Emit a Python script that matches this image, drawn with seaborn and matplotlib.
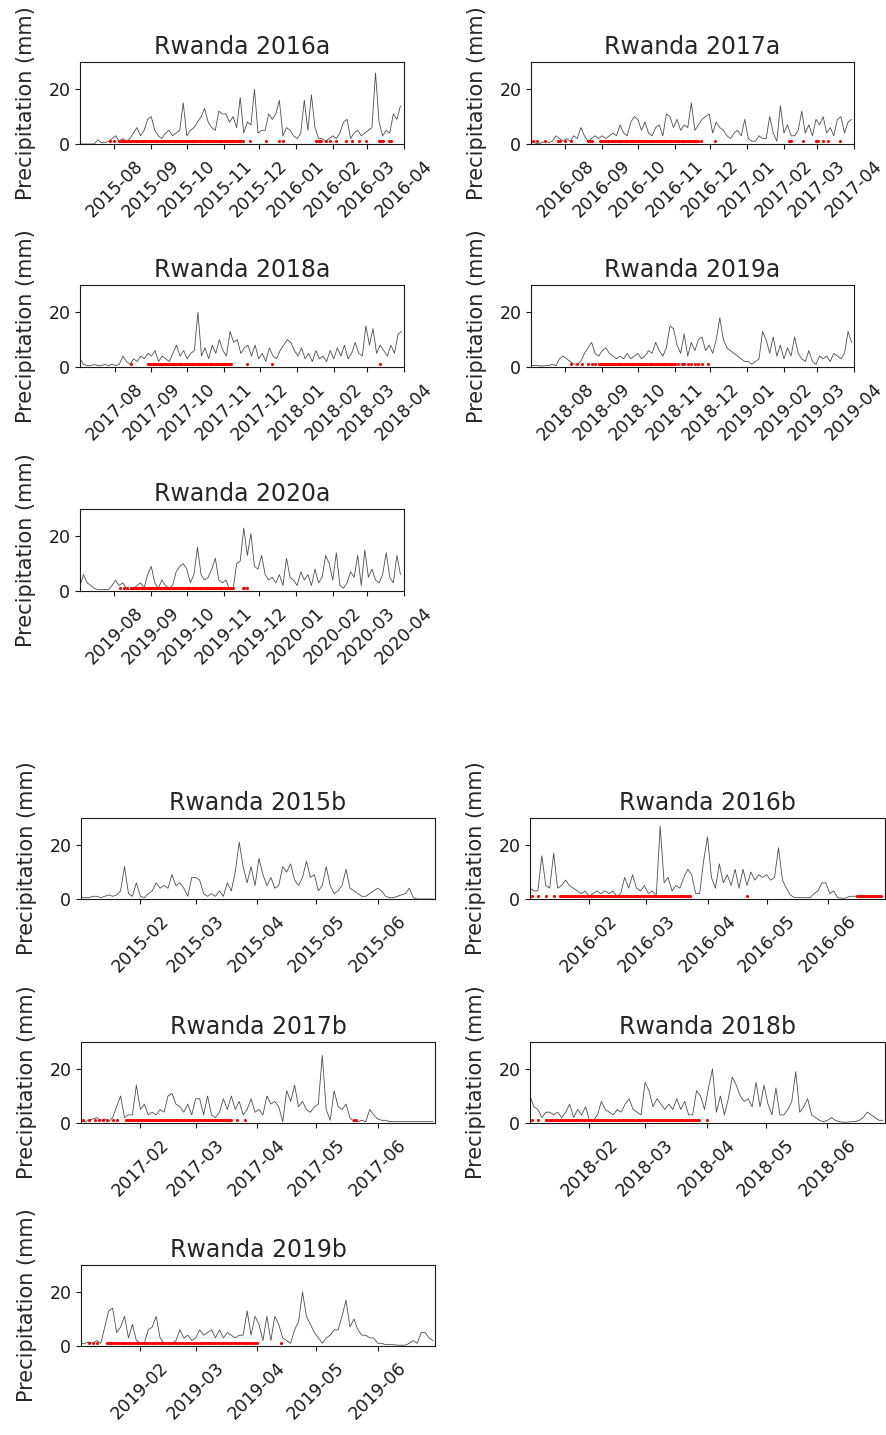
import numpy as np
import pandas as pd
import matplotlib
matplotlib.use("Agg")
import matplotlib.pyplot as plt
import matplotlib.dates as mdates
import seaborn as sns

# ---------------- data ----------------
# Season "a": 3-day samples starting 3 July of the previous year
A_TITLES = ["Rwanda 2016a", "Rwanda 2017a", "Rwanda 2018a", "Rwanda 2019a", "Rwanda 2020a"]
A_STARTS = ["2015-07-03", "2016-07-03", "2017-07-03", "2018-07-03", "2019-07-03"]
A_ENDS = ["2016-04-01", "2017-04-01", "2018-04-01", "2019-04-01", "2020-04-01"]

precip_2016a = [0, 0, 0, 0, 0, 1.5, 0.5, 0.5, 1, 2,
                3, 1, 2, 1, 2, 4, 6, 3, 5, 9,
                10, 5, 3, 2, 4, 5, 3, 4, 5, 15,
                3, 5, 6, 8, 10, 13, 8, 6, 5, 12,
                11, 11, 8, 10, 6, 17, 4, 8, 7, 20,
                4, 5, 5, 11, 9, 11, 16, 3, 6, 5,
                3, 2, 4, 16, 5, 18, 6, 2, 2, 1,
                2, 3, 2, 4, 8, 9, 2, 4, 5, 3,
                4, 5, 6, 26, 8, 3, 5, 4, 11, 9, 14]
precip_2017a = [0.5, 0.5, 0, 0.5, 1, 0.5, 1, 3, 2, 1,
                2, 1, 3, 2, 6, 3, 1, 2, 3, 2,
                3, 2, 3, 4, 3, 7, 4, 3, 8, 10,
                9, 5, 8, 4, 3, 6, 7, 3, 11, 10,
                6, 9, 5, 7, 6, 15, 5, 7, 9, 10,
                11, 4, 8, 6, 5, 3, 2, 4, 5, 3,
                9, 2, 1, 1, 3, 2, 2, 10, 4, 1,
                14, 4, 7, 3, 3, 5, 12, 4, 7, 3,
                9, 7, 10, 4, 6, 3, 9, 10, 4, 8, 9]
precip_2018a = [3, 1, 0.5, 0.5, 1, 0.5, 0.5, 1, 0.5, 1,
                0.5, 1, 4, 2, 1, 3, 2, 4, 3, 5,
                4, 6, 2, 4, 3, 2, 5, 8, 4, 6,
                3, 5, 6, 20, 4, 7, 3, 8, 5, 10,
                6, 4, 13, 9, 10, 5, 7, 8, 4, 8,
                3, 5, 2, 7, 4, 3, 6, 8, 10, 9,
                6, 4, 7, 3, 5, 2, 6, 3, 4, 2,
                6, 3, 7, 4, 8, 3, 5, 9, 5, 4,
                15, 8, 14, 5, 8, 6, 4, 8, 5, 12, 13]
precip_2019a = [0.5, 0.5, 0.5, 0.3, 0.5, 0.5, 1, 0.5, 3, 4,
                3, 2, 1, 1, 2, 5, 7, 9, 5, 4,
                6, 7, 5, 4, 3, 4, 3, 5, 3, 4,
                5, 3, 4, 6, 5, 9, 6, 4, 7, 15,
                14, 8, 5, 12, 4, 9, 6, 10, 11, 6,
                8, 5, 10, 18, 10, 7, 6, 5, 4, 3,
                2, 2, 1, 2, 3, 13, 10, 5, 11, 4,
                8, 3, 7, 4, 11, 5, 3, 2, 6, 2,
                1, 4, 3, 4, 2, 5, 4, 3, 5, 13, 9]
precip_2020a = [2, 6, 3, 2, 1, 0.5, 0.5, 0.5, 0.5, 2,
                4, 2, 3, 1, 0.5, 1, 2, 3, 1, 6,
                9, 3, 1, 4, 2, 1, 2, 7, 9, 10,
                8, 3, 6, 16, 6, 4, 5, 8, 12, 4,
                3, 4, 0.5, 0.5, 10, 11, 23, 13, 21, 9,
                8, 13, 6, 4, 5, 3, 6, 2, 12, 5,
                4, 2, 7, 4, 6, 2, 8, 3, 5, 13,
                10, 4, 14, 2, 1, 3, 7, 5, 13, 2,
                15, 5, 8, 4, 3, 6, 14, 5, 3, 13, 6]

# flagged days (red dots): (first day, last day) offsets from season start
flags_2016a = [(25, 25), (29, 29), (33, 137), (143, 143), (157, 157), (168, 168),
               (171, 171), (199, 203), (207, 207), (211, 211), (216, 216), (224, 224),
               (229, 229), (235, 235), (241, 241), (252, 255), (260, 262)]
flags_2017a = [(2, 2), (5, 5), (12, 12), (23, 24), (29, 29), (34, 34), (48, 51),
               (58, 141), (143, 143), (155, 155), (217, 219), (229, 229), (240, 242),
               (246, 246), (250, 250), (260, 260)]
flags_2018a = [(43, 43), (57, 127), (140, 140), (161, 161), (252, 252)]
flags_2019a = [(34, 34), (39, 39), (43, 43), (48, 48), (51, 51), (54, 54), (57, 121),
               (124, 124), (127, 127), (129, 129), (132, 132), (135, 135), (138, 138),
               (141, 141), (144, 144), (149, 149)]
flags_2020a = [(34, 34), (37, 37), (40, 40), (43, 129), (137, 138), (141, 141)]

# Season "b": 2-day samples starting 2 January
B_TITLES = ["Rwanda 2015b", "Rwanda 2016b", "Rwanda 2017b", "Rwanda 2018b", "Rwanda 2019b"]
B_STARTS = ["2015-01-02", "2016-01-02", "2017-01-02", "2018-01-02", "2019-01-02"]
B_ENDS = ["2015-06-30", "2016-06-30", "2017-06-30", "2018-06-30", "2019-06-30"]

precip_2015b = [0.5, 0.5, 0.5, 1, 1, 0.5, 1, 1.5, 1, 1.5, 3, 12, 2, 1, 6,
                1, 0.5, 2, 3, 6, 4, 5, 4, 9, 5, 6, 4, 1, 8,
                8, 7, 2, 1, 2, 1, 3, 1, 6, 3, 10, 21, 12, 6, 12, 5,
                15, 9, 5, 8, 4, 5, 12, 10, 13, 7, 5, 8, 14, 8, 9,
                3, 5, 12, 5, 2, 3, 5, 11, 4, 3, 2, 1, 1, 2, 3, 4,
                3, 1, 0.5, 0.5, 1, 1.5, 2, 4, 0.5, 0, 0, 0, 0, 0]
precip_2016b = [4, 3, 3, 16, 5, 4, 17, 4, 5, 7, 5, 4, 3, 2, 3,
                1, 2, 3, 2, 3, 2, 3, 1, 2, 8, 4, 9, 4, 3, 5,
                2, 3, 1, 27, 6, 8, 3, 5, 4, 8, 11, 9, 2, 2, 14,
                23, 8, 4, 13, 6, 9, 5, 11, 4, 11, 5, 10, 7, 9, 8,
                9, 7, 8, 19, 7, 4, 1.5, 0.5, 0.5, 0.5, 0.5, 0.5, 2, 3, 6,
                6, 2, 3, 0.5, 0.3, 0.3, 1, 1, 1, 0.5, 0.5, 0.5, 0.5, 0.5, 0.5]
precip_2017b = [1, 0.5, 1, 1.5, 2, 1, 1.5, 0.5, 2, 6, 10, 2, 3, 3, 14,
                5, 7, 3, 4, 3, 5, 4, 10, 11, 7, 6, 4, 7, 3, 9,
                9, 3, 10, 3, 2, 4, 9, 5, 10, 5, 8, 3, 5, 9, 4,
                5, 3, 10, 7, 8, 6, 0.5, 12, 8, 14, 6, 8, 5, 4, 6,
                7, 25, 5, 1, 12, 6, 5, 7, 2, 0.5, 0.5, 1, 0.5, 5, 3,
                1.5, 1, 1, 0.5, 0.5, 0.5, 0.5, 0.5, 0.5, 0.5, 0.5, 0.5, 0.5, 0.5, 0.5]
precip_2018b = [10, 6, 5, 2, 4, 4, 3, 4, 2, 4, 7, 2, 5, 3, 6,
                1, 1, 3, 8, 5, 4, 3, 5, 4, 7, 9, 5, 4, 3, 15,
                12, 6, 9, 7, 5, 7, 5, 9, 5, 8, 3, 3, 12, 10, 5,
                13, 20, 4, 10, 3, 9, 17, 14, 10, 8, 9, 6, 15, 6, 14,
                7, 3, 13, 3, 3, 5, 8, 19, 4, 6, 9, 3, 2, 1, 0.5,
                1, 2, 1, 0.5, 0.3, 0.3, 0.5, 0.5, 1, 2, 4, 3, 2, 1, 1]
precip_2019b = [1, 1, 1.5, 1, 2, 1, 7, 13, 14, 5, 7, 11, 3, 8, 2,
                1, 1, 6, 7, 11, 3, 1, 1, 1, 2, 6, 3, 4, 2, 3,
                6, 4, 5, 6, 3, 6, 3, 5, 4, 3, 4, 4, 13, 4, 11,
                8, 2, 11, 2, 11, 8, 3, 2, 1, 6, 9, 20, 11, 8, 5,
                3, 1, 3, 4, 6, 6, 11, 17, 7, 10, 6, 4, 4, 3, 3,
                1, 1, 0.5, 0.5, 0.5, 0.3, 0.3, 0.3, 1, 2, 1, 5, 5, 3, 2]

flags_2015b = []
flags_2016b = [(1, 1), (4, 4), (8, 8), (12, 12), (15, 81), (110, 110), (166, 178)]
flags_2017b = [(1, 1), (4, 4), (7, 7), (9, 9), (11, 11), (13, 13), (16, 16), (18, 18),
               (23, 76), (79, 79), (83, 83), (138, 139)]
flags_2018b = [(1, 1), (4, 4), (8, 85), (89, 89)]
flags_2019b = [(4, 4), (6, 6), (8, 8), (13, 89), (101, 101)]

A_PRECIP = [precip_2016a, precip_2017a, precip_2018a, precip_2019a, precip_2020a]
A_FLAGS = [flags_2016a, flags_2017a, flags_2018a, flags_2019a, flags_2020a]
B_PRECIP = [precip_2015b, precip_2016b, precip_2017b, precip_2018b, precip_2019b]
B_FLAGS = [flags_2015b, flags_2016b, flags_2017b, flags_2018b, flags_2019b]

FLAG_LEVEL = 1  # red markers drawn at 1 mm

# ---------------- styling ----------------
sns.set_style("ticks")
plt.rcParams["font.family"] = ["DejaVu Sans"]
plt.rcParams["axes.edgecolor"] = "0.1"
plt.rcParams["xtick.color"] = "0.1"
plt.rcParams["ytick.color"] = "0.1"
plt.rcParams["text.color"] = "0.15"

W, H = 887, 1435
fig = plt.figure(figsize=(W / 100, H / 100), dpi=100)


def px_axes(left, top, right, bottom):
    return fig.add_axes([left / W, 1 - bottom / H, (right - left) / W, (bottom - top) / H])


def draw(ax, title, start, end, step, values, flags):
    dates = pd.date_range(start, periods=len(values), freq=f"{step}D")
    df = pd.DataFrame({"date": dates, "precip": values})
    sns.lineplot(data=df, x="date", y="precip", ax=ax, color="0.3", linewidth=0.6)
    days = [d for a, b in flags for d in range(a, b + 1)]
    if days:
        fdates = pd.Timestamp(start) + pd.to_timedelta(days, unit="D")
        fdf = pd.DataFrame({"date": fdates, "flag": [FLAG_LEVEL] * len(days)})
        sns.scatterplot(data=fdf, x="date", y="flag", ax=ax, color="red", s=5,
                        linewidth=0, zorder=3, clip_on=False)
    ax.set_xlim(pd.Timestamp(start), pd.Timestamp(end))
    ax.set_ylim(0, 30)
    ax.set_yticks([0, 20])
    ax.xaxis.set_major_locator(mdates.MonthLocator())
    ax.xaxis.set_major_formatter(mdates.DateFormatter("%Y-%m"))
    ax.tick_params(axis="x", labelrotation=45, labelsize=12.5, pad=6)
    ax.tick_params(axis="y", labelsize=12.5)
    ax.set_title(title, fontsize=17)
    ax.set_ylabel("Precipitation (mm)", fontsize=15, labelpad=9)
    ax.set_xlabel("")


# top block (season a)
a_boxes = [(80, 62, 404, 144), (531, 62, 854, 144),
           (80, 285, 404, 367), (531, 285, 854, 367),
           (80, 509, 404, 591)]
for box, t, s, e, v, f in zip(a_boxes, A_TITLES, A_STARTS, A_ENDS, A_PRECIP, A_FLAGS):
    draw(px_axes(*box), t, s, e, 3, v, f)

# bottom block (season b)
b_boxes = [(81, 818, 435, 899), (530, 818, 885, 899),
           (81, 1042, 435, 1123), (530, 1042, 885, 1123),
           (81, 1265, 435, 1346)]
for box, t, s, e, v, f in zip(b_boxes, B_TITLES, B_STARTS, B_ENDS, B_PRECIP, B_FLAGS):
    draw(px_axes(*box), t, s, e, 2, v, f)

fig.savefig("out.png", dpi=100)
